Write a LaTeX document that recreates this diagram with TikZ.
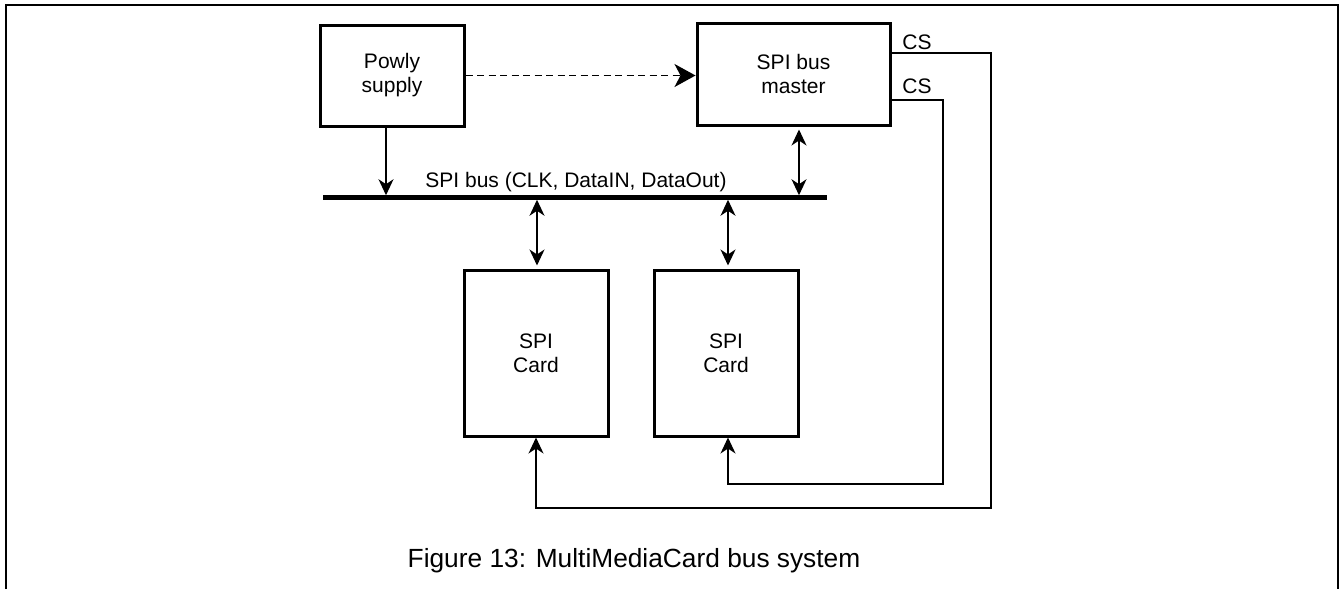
\documentclass[tikz,border=0pt]{standalone}
\usepackage{fontspec}
\setmainfont{Liberation Sans}
\usetikzlibrary{arrows.meta}
\tikzset{
  blk/.style={draw=black, line width=3pt, inner sep=0pt, align=center,
    font=\fontsize{21}{24}\selectfont},
  conn/.style={draw=black, line width=1.6pt},
  tip/.style={-{Stealth[length=16pt,width=15pt,inset=5pt]}},
  dtip/.style={{Stealth[length=16pt,width=15pt,inset=5pt]}-{Stealth[length=16pt,width=15pt,inset=5pt]}},
  lbl/.style={inner sep=0pt, anchor=base, font=\fontsize{21}{24}\selectfont},
}
\begin{document}
\begin{tikzpicture}[x=1pt,y=-1pt]
\useasboundingbox (0,0) rectangle (1341,589);
% frame
\draw[line width=2pt] (6,589) -- (6,4.5) -- (1338,4.5) -- (1338,589);

% blocks
\node[blk, minimum width=144pt, minimum height=101pt] (powly) at (392,75.5) {Powly\\supply};
\node[blk, minimum width=193pt, minimum height=102pt] (master) at (793.5,74) {SPI bus\\master};
\node[blk, minimum width=144pt, minimum height=166pt] (card1) at (536,353) {SPI\\Card};
\node[blk, minimum width=144pt, minimum height=166pt] (card2) at (726,353) {SPI\\Card};

% bus
\node[fill=black, minimum width=504pt, minimum height=4.5pt, inner sep=0pt, outer sep=0pt] (bus) at (575,197.5) {};
\node[lbl] (buslbl) at (576,187) {SPI bus (CLK, DataIN, DataOut)};

% CS labels
\node[lbl] (cs1) at (917,49.5) {CS};
\node[lbl] (cs2) at (917,93.5) {CS};

% corner coordinates
\coordinate (k1) at (991,508);
\coordinate (k2) at (943,484);

% dashed supply to master
\draw[conn, dash pattern=on 7pt off 4.5pt, -{Stealth[length=21pt,width=23pt,inset=6pt]}]
  (powly.east) -- (powly.east -| master.west);

% power to bus
\draw[conn, tip] ([xshift=-6pt]powly.south) -- ([xshift=-6pt]powly.south |- bus.north);

% master <-> bus
\draw[conn, dtip, shorten <=3pt] ([xshift=5.5pt]master.south) -- ([xshift=5.5pt]master.south |- bus.north);

% bus <-> cards
\draw[conn, dtip, shorten >=3pt] ([xshift=1pt]card1.north |- bus.south) -- ([xshift=1pt]card1.north);
\draw[conn, dtip, shorten >=3pt] ([xshift=2pt]card2.north |- bus.south) -- ([xshift=2pt]card2.north);

% chip select lines
\draw[conn, tip] ([yshift=21pt]master.east) -| (k1) -| (card1.south);
\draw[conn, tip] ([yshift=-26pt]master.east) -| (k2) -| ([xshift=2pt]card2.south);

% caption
\node[inner sep=0pt, anchor=base, font=\fontsize{26.3}{30}\selectfont] (cap) at (634,567) {Figure 13: MultiMediaCard bus system};
\end{tikzpicture}
\end{document}
